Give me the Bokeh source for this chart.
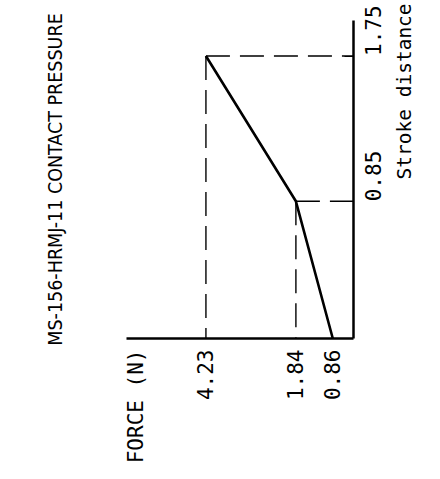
import math
from bokeh.plotting import figure
from bokeh.models import Range1d, LinearAxis, FixedTicker, NumeralTickFormatter
from bokeh.embed import file_html
from bokeh.resources import INLINE

# ---- data ----
force = [0.86, 1.84, 4.23]          # N
stroke = [0.0, 0.85, 1.75]          # stroke distance
force_ticks = [0.86, 1.84, 4.23]
stroke_ticks = [0.85, 1.75]
title_text = "MS-156-HRMJ-11 CONTACT PRESSURE"
force_title = "FORCE (N)"
stroke_title = "Stroke distance"

W, H = 440, 479
x_range = Range1d(6.34, 0.31)   # force grows to the left (chart is drawn rotated)
y_range = Range1d(0, 1.97)
force_title_pos = 6.1           # force axis title sits at the axis' far end

p = figure(width=W, height=H, x_range=x_range, y_range=y_range,
           output_backend="svg", toolbar_location=None,
           x_axis_location=None, y_axis_location=None,
           min_border_left=126, min_border_right=87,
           min_border_top=20, min_border_bottom=141)
p.outline_line_color = None
p.grid.visible = False
p.background_fill_color = "white"
p.border_fill_color = "white"

mono = "DejaVu Sans Mono"
cond = "DejaVu Sans Condensed, Liberation Sans"


def bare(axis):
    axis.major_tick_in = 0
    axis.major_tick_out = 0
    axis.minor_tick_in = 0
    axis.minor_tick_out = 0
    axis.major_label_orientation = math.pi / 2
    axis.major_label_text_color = "black"


# force axis (drawn at the bottom)
xa = LinearAxis(ticker=FixedTicker(ticks=force_ticks + [force_title_pos]),
                formatter=NumeralTickFormatter(format="0.00"),
                major_label_overrides={force_title_pos: force_title})
bare(xa)
xa.axis_line_width = 2.5
xa.axis_line_color = "black"
xa.major_label_standoff = 11
xa.major_label_text_font = mono
xa.major_label_text_font_size = "21px"
p.add_layout(xa, "below")

# stroke axis (drawn at the right) with its title
ya = LinearAxis(ticker=FixedTicker(ticks=stroke_ticks),
                formatter=NumeralTickFormatter(format="0.00"))
bare(ya)
ya.axis_line_width = 2.5
ya.axis_line_color = "black"
ya.major_tick_in = 9
ya.major_tick_line_width = 1.2
ya.major_label_standoff = 20
ya.major_label_text_font = mono
ya.major_label_text_font_size = "21px"
ya.axis_label = stroke_title
ya.axis_label_orientation = math.pi / 2
ya.axis_label_align = "center"
ya.axis_label_standoff = 12
ya.axis_label_text_font = mono
ya.axis_label_text_font_style = "normal"
ya.axis_label_text_font_size = "19.5px"
ya.axis_label_text_color = "black"
p.add_layout(ya, "right")

# chart title, carried by a bare axis on the left
ta = LinearAxis(ticker=FixedTicker(ticks=[]))
ta.axis_line_color = None
ta.major_tick_line_color = None
ta.minor_tick_line_color = None
ta.major_label_text_font_size = "0px"
ta.axis_label = title_text
ta.axis_label_align = "center"
ta.axis_label_standoff = 60
ta.axis_label_text_font = cond
ta.axis_label_text_font_style = "normal"
ta.axis_label_text_font_size = "19.5px"
ta.axis_label_text_color = "black"
p.add_layout(ta, "left")

# dashed guide lines from each break point to both axes
bx = [f for f, s in zip(force, stroke) if s > 0]
by = [s for f, s in zip(force, stroke) if s > 0]
p.segment(x0=bx, y0=by, x1=bx, y1=[y_range.start] * len(bx),
          line_color="black", line_width=1.4, line_dash="24 10")
p.segment(x0=bx, y0=by, x1=[x_range.end] * len(bx), y1=by,
          line_color="black", line_width=1.4, line_dash="24 10")

# force / stroke curve
p.line(force, stroke, line_color="black", line_width=2.6)

open("out.html", "w").write(file_html(p, INLINE))
